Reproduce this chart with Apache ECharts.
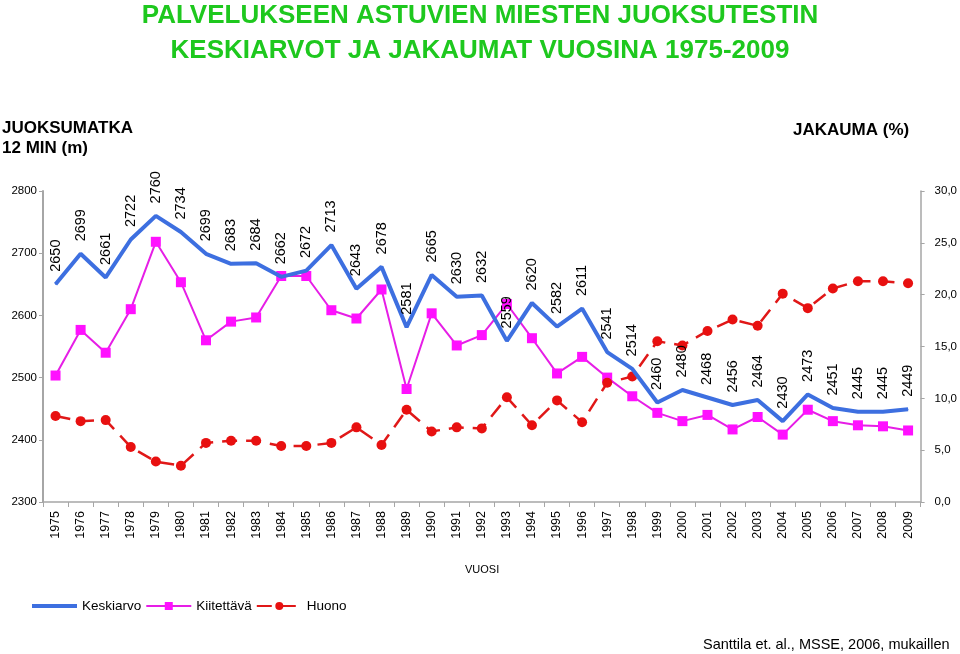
<!DOCTYPE html>
<html>
<head>
<meta charset="utf-8">
<script src="https://cdn.jsdelivr.net/npm/echarts@6/dist/echarts.min.js"></script>
<style>html,body{margin:0;padding:0;background:#fff;}#c{width:960px;height:654px;}</style>
</head>
<body>
<div id="c"></div>
<script>
var years = ['1975','1976','1977','1978','1979','1980','1981','1982','1983','1984','1985','1986','1987','1988','1989','1990','1991','1992','1993','1994','1995','1996','1997','1998','1999','2000','2001','2002','2003','2004','2005','2006','2007','2008','2009'];
var keskiarvo = [2650,2699,2661,2722,2760,2734,2699,2683,2684,2662,2672,2713,2643,2678,2581,2665,2630,2632,2559,2620,2582,2611,2541,2514,2460,2480,2468,2456,2464,2430,2473,2451,2445,2445,2449];
var kiitettava = [12.2,16.6,14.4,18.6,25.1,21.2,15.6,17.4,17.8,21.8,21.8,18.5,17.7,20.5,10.9,18.2,15.1,16.1,19.1,15.8,12.4,14.0,12.0,10.2,8.6,7.8,8.4,7.0,8.2,6.5,8.9,7.8,7.4,7.3,6.9];
var huono = [8.3,7.8,7.9,5.3,3.9,3.5,5.7,5.9,5.9,5.4,5.4,5.7,7.2,5.5,8.9,6.8,7.2,7.1,10.1,7.4,9.8,7.7,11.5,12.1,15.5,15.1,16.5,17.6,17.0,20.1,18.7,20.6,21.3,21.3,21.1];
var leftTicks = {min:2300, max:2800, interval:100};
var rightTicks = {min:0, max:30, interval:5};

var chart = echarts.init(document.getElementById('c'), null, {renderer:'canvas'});
var font = 'Arial, "Liberation Sans", sans-serif';
var axisGray = '#a6a6a6';
var option = {
  backgroundColor:'#fff',
  animation:false,
  textStyle:{fontFamily:font},
  grid:{left:43, right:38, top:191, height:311},
  legend:{
    left:25, top:594, itemWidth:45, itemHeight:10, itemGap:4,
    textStyle:{fontFamily:font, fontSize:13.5, color:'#000'},
    data:[{name:'Keskiarvo', itemStyle:{opacity:0}, lineStyle:{width:4}},{name:'Kiitettävä'},{name:'Huono'}]
  },
  xAxis:{
    type:'category', data:years, boundaryGap:true,
    axisLine:{lineStyle:{color:axisGray, width:1.5}},
    axisTick:{show:true, alignWithLabel:false, length:5, lineStyle:{color:axisGray}},
    axisLabel:{rotate:90, fontSize:12.5, color:'#000', margin:9, interval:0, fontFamily:font},
    splitLine:{show:false}
  },
  yAxis:[{
    type:'value', min:leftTicks.min, max:leftTicks.max, interval:leftTicks.interval, position:'left',
    axisLine:{show:true, lineStyle:{color:axisGray, width:2}},
    axisTick:{show:true, length:4, lineStyle:{color:axisGray}},
    axisLabel:{fontSize:11.5, color:'#000', margin:6, fontFamily:font,
      formatter:function(v){return String(v);}},
    splitLine:{show:false}
  },{
    type:'value', min:rightTicks.min, max:rightTicks.max, interval:rightTicks.interval, position:'right',
    axisLine:{show:true, lineStyle:{color:axisGray, width:1.5}},
    axisTick:{show:true, length:4, lineStyle:{color:axisGray}},
    axisLabel:{fontSize:11.5, color:'#000', margin:14, fontFamily:font,
      formatter:function(v){return v.toFixed(1).replace('.',',');}},
    splitLine:{show:false}
  }],
  series:[{
    name:'Keskiarvo', type:'line', yAxisIndex:0, data:keskiarvo,
    symbol:'circle', symbolSize:1, z:3,
    lineStyle:{color:'#3d6fe0', width:4},
    itemStyle:{color:'#3d6fe0'},
    label:{show:true, position:'top', distance:12, rotate:90, align:'left', verticalAlign:'middle',
      fontSize:14.5, color:'#000', fontFamily:font}
  },{
    name:'Kiitettävä', type:'line', yAxisIndex:1, data:kiitettava,
    symbol:'rect', symbolSize:10, z:2,
    lineStyle:{color:'#e61ee6', width:2},
    itemStyle:{color:'#ff10ff'}
  },{
    name:'Huono', type:'line', yAxisIndex:1, data:huono,
    symbol:'circle', symbolSize:10, z:2,
    lineStyle:{color:'#e01818', width:2.5, type:[15,9]},
    itemStyle:{color:'#e81010'}
  }],
  graphic:[
    {type:'text', left:'center', top:3, style:{text:'PALVELUKSEEN ASTUVIEN MIESTEN JUOKSUTESTIN', font:'bold 26px '+font, fill:'#1ec81e'}},
    {type:'text', left:'center', top:38, style:{text:'KESKIARVOT JA JAKAUMAT VUOSINA 1975-2009', font:'bold 26px '+font, fill:'#1ec81e'}},
    {type:'text', left:2, top:118, style:{text:'JUOKSUMATKA\n12 MIN (m)', font:'bold 17px '+font, fill:'#000', lineHeight:20}},
    {type:'text', left:793, top:122, style:{text:'JAKAUMA (%)', font:'bold 17px '+font, fill:'#000'}},
    {type:'text', left:465, top:564, style:{text:'VUOSI', font:'11px '+font, fill:'#000'}},
    {type:'text', left:703, top:637, style:{text:'Santtila et. al., MSSE, 2006, mukaillen', font:'14.5px '+font, fill:'#000'}}
  ]
};
chart.setOption(option);
</script>
</body>
</html>
